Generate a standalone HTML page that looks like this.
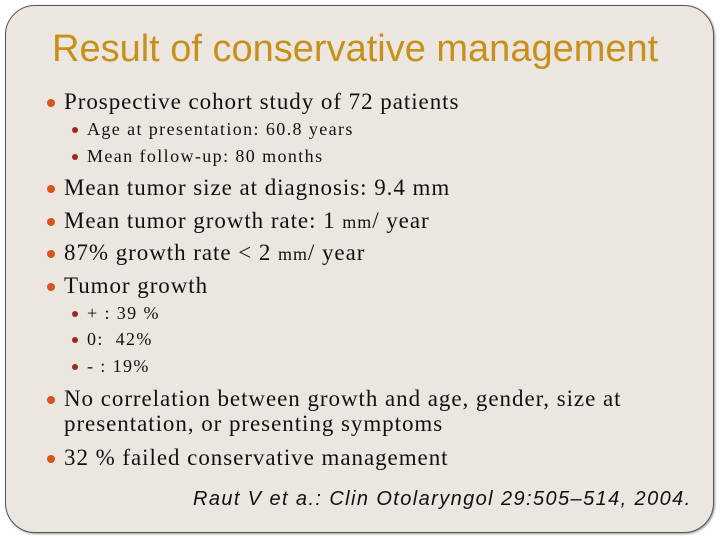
<!DOCTYPE html>
<html><head><meta charset="utf-8"><style>
body{margin:0;width:720px;height:540px;background:#fff;position:relative;overflow:hidden;font-family:"Liberation Serif",serif;color:#111;}
.panel{position:absolute;left:5px;top:5px;width:707px;height:526px;background:#ebe7e0;border:1px solid #555;border-radius:30px;box-shadow:1px 1px 2px #999;}
.t{position:absolute;white-space:nowrap;}
h1{position:absolute;left:52px;top:28px;margin:0;font:400 38px "Liberation Sans",sans-serif;color:#c8901a;white-space:nowrap;letter-spacing:0px}
.m{font-size:23px;left:64px;letter-spacing:0.95px}
.s{font-size:18px;left:87px;letter-spacing:1.4px}
.d{position:absolute;border-radius:50%;}
.dm{width:8px;height:8px;background:#d9541c;left:47px}
.ds{width:6px;height:6px;background:#9a2a20;left:72px}
.c{position:absolute;left:193px;top:488px;font:italic 20px "Liberation Sans",sans-serif;color:#111;letter-spacing:1.4px;white-space:nowrap}
</style></head><body>
<div class="panel"></div>
<h1>Result of conservative management</h1>
<div class="d dm" style="top:99px"></div><div class="t m" style="top:89px">Prospective cohort study of 72 patients</div>
<div class="d ds" style="top:127px"></div><div class="t s" style="top:119px">Age at presentation: 60.8 years</div>
<div class="d ds" style="top:154px"></div><div class="t s" style="top:146px">Mean follow-up: 80 months</div>
<div class="d dm" style="top:185px"></div><div class="t m" style="top:175px">Mean tumor size at diagnosis: 9.4 mm</div>
<div class="d dm" style="top:218px"></div><div class="t m" style="top:208px">Mean tumor growth rate: 1 <span style="font-size:18px">mm</span>/ year</div>
<div class="d dm" style="top:250px"></div><div class="t m" style="top:240px">87% growth rate &lt; 2 <span style="font-size:18px">mm</span>/ year</div>
<div class="d dm" style="top:283px"></div><div class="t m" style="top:273px">Tumor growth</div>
<div class="d ds" style="top:311px"></div><div class="t s" style="top:303px">+ : 39 %</div>
<div class="d ds" style="top:337px"></div><div class="t s" style="top:329px">0:&nbsp; 42%</div>
<div class="d ds" style="top:364px"></div><div class="t s" style="top:356px">- : 19%</div>
<div class="d dm" style="top:396px"></div><div class="t m" style="top:386px">No correlation between growth and age, gender, size at</div>
<div class="t m" style="top:411px">presentation, or presenting symptoms</div>
<div class="d dm" style="top:455px"></div><div class="t m" style="top:445px">32 % failed conservative management</div>
<div class="c">Raut V et a.: Clin Otolaryngol 29:505–514, 2004.</div>
</body></html>
